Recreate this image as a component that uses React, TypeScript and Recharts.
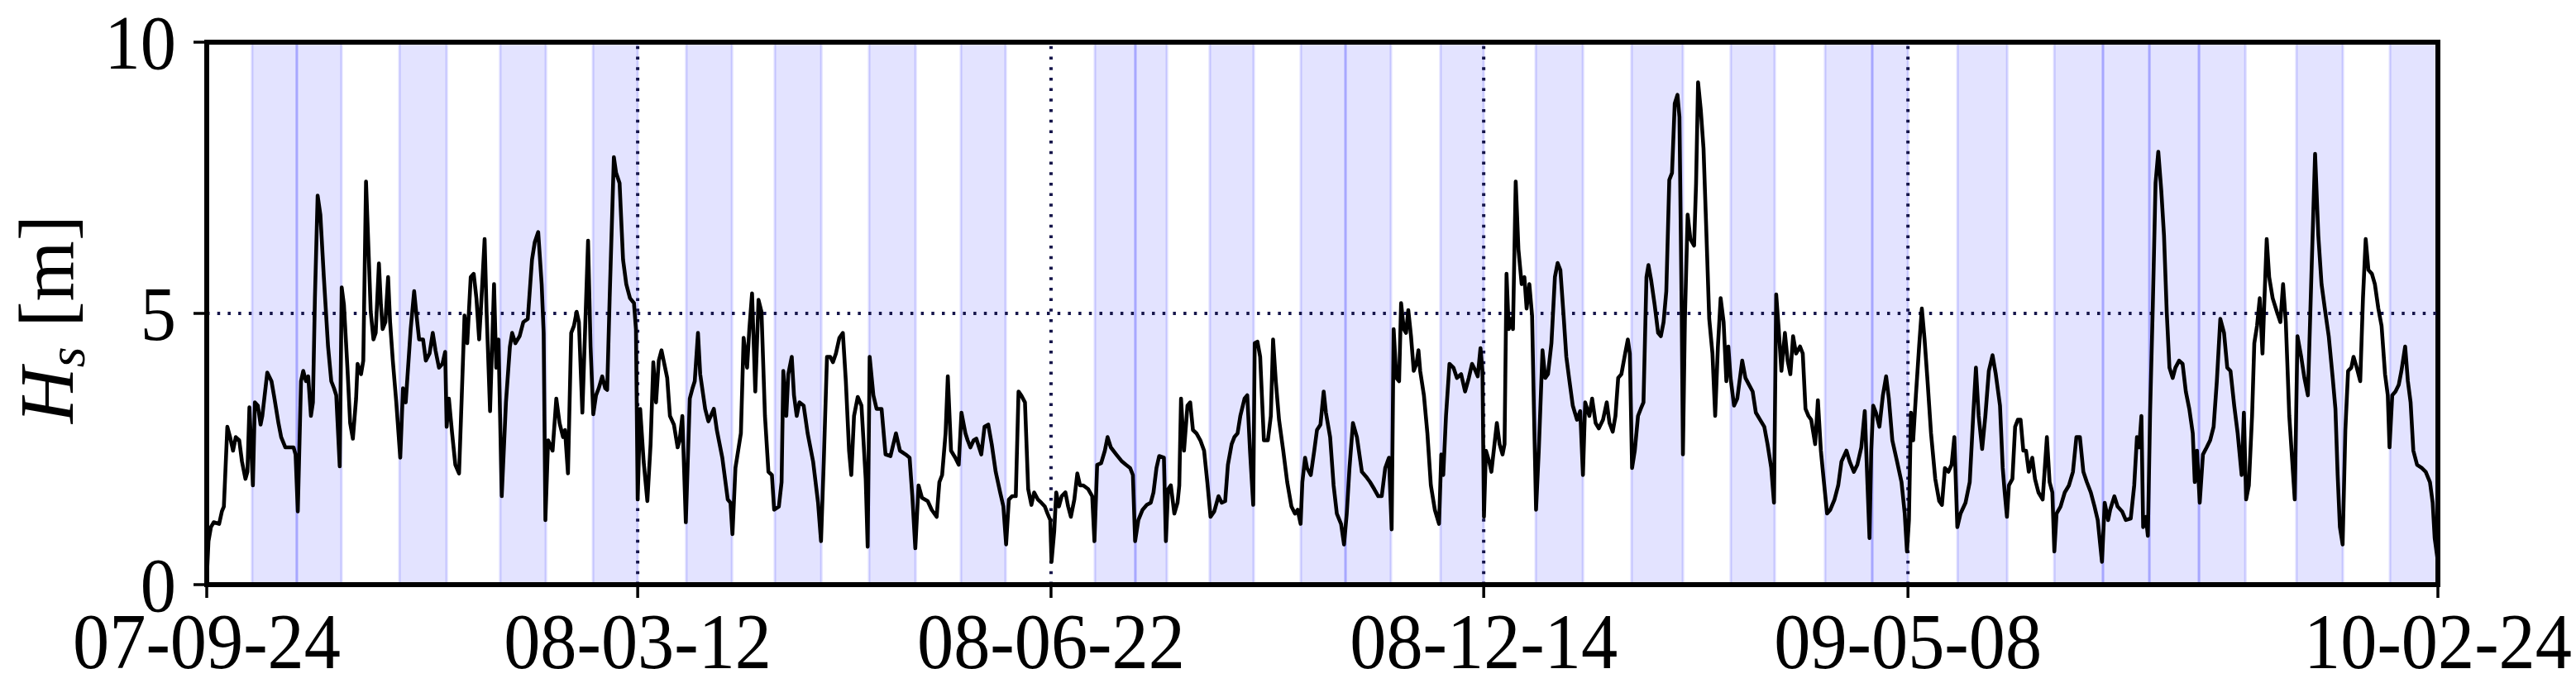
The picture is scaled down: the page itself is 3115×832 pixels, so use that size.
import React from 'react';
import { LineChart, Line, XAxis, YAxis, ReferenceArea, ReferenceLine } from 'recharts';

// x positions are sample indices of the concatenated record
const tickIndex = [0, 173.7, 340.3, 514.7, 685.7, 899.3];
const tickLabels = ['07-09-24', '08-03-12', '08-06-22', '08-12-14', '09-05-08', '10-02-24'];
const sectionMarks = [173.7, 340.3, 514.7, 685.7];
const hsThreshold = 5;
const yTicks = [0, 5, 10];
const xDomain: [number, number] = [0, 899.3];
const yDomain: [number, number] = [0, 10];

const bandStart = [18.3, 36.3, 77.7, 118.3, 155.7, 193.3, 229, 267, 304, 358, 374.3, 404.3, 441, 459, 497.3, 535.7, 574.3, 614.3, 652.3, 671.3, 705.7, 744.7, 764.3, 783, 803, 842.3, 880];
const bandEnd = [36.3, 54.3, 96.7, 136.7, 173.7, 211.7, 247.7, 285.7, 322, 374.3, 387, 422, 459, 477.3, 514.7, 554.7, 595, 632, 671.3, 685.7, 725.7, 764.3, 783, 803, 821.7, 861, 899.3];

const hsPart1: [number, number][] = [[0,0.1],[0.7,0.8],[1.7,1.06],[2.8,1.15],[5,1.12],[6.1,1.35],[6.9,1.44],[8.3,2.91],[9.4,2.72],[10.6,2.47],[11.7,2.72],[13.1,2.66],[14.2,2.27],[15.6,1.95],[16.4,2.08],[17.2,3.27],[18.6,1.83],[19.4,3.36],[20.6,3.3],[21.7,2.95],[22.4,3.11],[24.4,3.91],[26.1,3.75],[27.2,3.46],[28.9,2.98],[30,2.72],[31.7,2.53],[35,2.53],[35.8,2.4],[36.7,1.35],[38,3.75],[38.9,3.94],[40,3.75],[40.9,3.84],[42,3.11],[42.8,3.36],[43.6,5.28],[44.7,7.17],[45.8,6.82],[47.2,5.67],[48.9,4.39],[50.2,3.75],[51.3,3.62],[52.2,3.49],[53.6,2.18],[54.4,5.48],[55.3,5.16],[56.7,4.0],[57.8,2.98],[58.9,2.69],[60.2,3.43],[60.8,4.07],[62.2,3.88],[63.1,4.13],[64.2,7.43],[65.3,6.05],[66.1,5.03],[67.2,4.52],[68.1,4.64],[69.4,5.92],[70.2,5.16],[70.9,4.71],[72,4.84],[73.1,5.67],[73.9,4.84],[75,4.13],[76.4,3.36],[78,2.34],[79.1,3.62],[80.2,3.36],[82.2,4.71],[83.6,5.41],[84.4,5.03],[85.6,4.52],[87.2,4.52],[88.3,4.13],[89.8,4.26],[91.1,4.64],[92.2,4.32],[93.6,4.0],[95,4.07],[96.1,4.29],[96.7,2.91],[97.6,3.43],[98.9,2.79],[100.2,2.21],[101.7,2.05],[102.8,3.49],[103.9,4.96],[105,4.45],[106.4,5.67],[107.6,5.73],[108.7,5.28],[109.8,4.52],[110.6,5.16],[112,6.37],[112.8,5.03],[114.2,3.2],[115.8,5.54],[116.7,4.0],[117.6,4.52],[118.9,1.63],[120.6,3.36],[122.2,4.39],[123.1,4.64],[124.4,4.45],[126.1,4.58],[127.6,4.84],[129.4,4.9],[131.1,5.99],[132.2,6.31],[133.6,6.5],[135,5.54],[135.8,4.64],[136.5,1.19],[137.6,2.66],[139.4,2.47],[140.9,3.43],[142.2,2.98],[143.6,2.72],[144.4,2.85],[145.6,2.05],[146.9,4.64],[148,4.77],[149.1,5.03],[150,4.84]];

const hsPart2: [number, number][] = [[151.4,3.17],[153.7,6.34],[154.7,4.39],[155.8,3.14],[156.9,3.49],[158,3.62],[159.4,3.84],[160.6,3.62],[161.4,3.59],[162.4,5.28],[164.1,7.88],[165,7.59],[166.4,7.4],[167.8,5.99],[169.1,5.54],[170.6,5.28],[172.2,5.19],[173,4.71],[173.7,1.57],[174.7,3.24],[176.1,2.27],[177.6,1.54],[178.9,2.59],[180,4.1],[181.1,3.36],[182.2,4.13],[183.3,4.32],[185.6,3.81],[186.7,3.11],[188.3,2.95],[189.8,2.53],[190.6,2.66],[191.7,3.11],[193.1,1.15],[194.7,3.43],[195.8,3.62],[196.7,3.75],[198,4.64],[198.9,3.88],[200.9,3.24],[202.2,3.01],[204.4,3.24],[205.6,2.85],[207.8,2.34],[210,1.57],[211.1,1.51],[211.9,0.93],[213.1,2.15],[214.2,2.47],[215.3,2.79],[216.4,4.55],[217.8,4.0],[218.7,4.71],[219.8,5.37],[221.1,3.56],[222.4,5.25],[223.6,5.03],[225,3.11],[226.4,2.08],[227.8,2.02],[228.7,1.38],[230.6,1.44],[231.7,1.89],[232.4,3.94],[233.6,3.11],[234.4,3.88],[235.8,4.2],[236.7,3.49],[237.8,3.11],[238.9,3.36],[240.6,3.3],[242.2,2.79],[244.4,2.27],[246.4,1.51],[247.6,0.8],[248.7,2.27],[250,4.2],[251.3,4.2],[252.4,4.1],[253.6,4.26],[255,4.55],[256.4,4.64],[257.6,3.75],[258.9,2.47],[259.8,2.02],[260.9,3.11],[262.4,3.46],[263.9,3.3],[265.6,1.95],[266.4,0.7],[267.2,4.2],[268.7,3.49],[270,3.24],[272,3.24],[273.6,2.4],[275.6,2.37],[277.8,2.79],[279.4,2.47],[281.7,2.4],[283.3,2.34],[284.4,1.63],[285.6,0.67],[286.9,1.83],[288.3,1.6],[290.6,1.54],[292.2,1.38],[294.2,1.25],[295.3,1.89],[296.4,2.02],[297.8,2.79],[298.7,3.84],[300,2.47],[301.7,2.34],[303.1,2.21],[304.2,3.17]];

const hsPart3: [number, number][] = [[305.8,2.79],[306.7,2.66],[307.8,2.53],[309.1,2.66],[310.2,2.69],[311.3,2.53],[312.2,2.4],[313.5,2.91],[315,2.95],[316.4,2.59],[318,2.08],[319.8,1.7],[321.1,1.44],[322.2,0.74],[323.3,1.57],[324.6,1.63],[326.1,1.63],[327.2,3.56],[328.3,3.49],[329.8,3.36],[331.1,1.76],[332.4,1.47],[333.5,1.7],[335,1.57],[336.4,1.51],[337.8,1.44],[338.9,1.31],[340,1.19],[340.5,0.42],[341.6,0.99],[342.4,1.7],[343.5,1.44],[344.6,1.63],[346.1,1.7],[347.2,1.44],[348.3,1.25],[349.7,1.57],[350.9,2.05],[352,1.83],[353.3,1.83],[355.3,1.76],[356.9,1.63],[357.8,0.8],[358.9,2.21],[360.5,2.24],[362,2.47],[363.1,2.72],[364.4,2.53],[366.6,2.4],[368.9,2.27],[370.5,2.21],[372.2,2.15],[373.3,2.02],[374.2,0.8],[375.5,1.19],[377.2,1.38],[378.9,1.47],[380.5,1.51],[381.6,1.7],[382.8,2.15],[383.9,2.37],[385.8,2.34],[386.6,0.8],[387.5,1.76],[388.6,1.83],[390,1.31],[391.3,1.51],[392,1.83],[392.7,3.43],[393.9,2.47],[395.3,3.3],[396.4,3.36],[397.5,2.85],[398.9,2.79],[400.5,2.66],[402,2.47],[403.3,1.89],[404.6,1.25],[406.1,1.35],[407.8,1.63],[409.1,1.51],[410.5,1.54],[411.6,2.21],[413.1,2.59],[414.2,2.72],[415.5,2.79],[416.6,3.11],[418.3,3.43],[419.4,3.49],[420.5,2.47],[421.8,1.47],[422.4,4.45],[423.5,4.48],[424.6,4.2],[426.1,2.66],[427.7,2.66],[428.9,3.11],[429.8,4.52],[430.9,3.75],[432.2,3.04],[433.9,2.47],[435.5,1.89],[437.2,1.44],[438.6,1.31],[439.7,1.38],[440.9,1.12],[441.6,1.89],[442.7,2.34],[443.5,2.15],[445,2.02],[446.4,2.47],[447.5,2.85],[448.9,2.95],[450.2,3.56],[451.1,3.17],[452.8,2.72],[454.2,1.83],[455.5,1.31],[457.2,1.12]];

const hsPart4: [number, number][] = [[458.4,0.74],[459.5,1.31],[460.6,2.15],[462,2.98],[463.6,2.72],[465.6,2.08],[467.3,1.99],[468.9,1.89],[470.6,1.76],[472.2,1.63],[473.6,1.63],[475,2.15],[476.5,2.34],[477.6,1.02],[478.4,4.71],[479.5,3.81],[480.6,3.75],[481.4,5.19],[482.5,4.71],[483.4,4.64],[484.3,5.06],[485.4,4.58],[486.5,3.94],[487.6,4.07],[488.4,4.32],[489.1,3.94],[490.6,3.49],[492,2.79],[493.4,1.83],[495,1.38],[496.7,1.12],[497.6,2.4],[498.4,2.02],[499.5,3.11],[500.9,4.07],[502.5,4.0],[503.9,3.81],[505.6,3.88],[507.2,3.56],[508.7,3.81],[510,4.07],[511.4,3.94],[512.3,3.84],[513.4,4.36],[514.2,3.94],[514.8,1.25],[515.6,2.47],[516.9,2.27],[517.8,2.08],[518.9,2.53],[520,2.98],[521.1,2.59],[522.3,2.4],[523.1,2.59],[523.9,5.73],[524.8,4.71],[525.6,4.9],[526.5,4.71],[527.6,7.43],[528.7,6.18],[530,5.54],[531.1,5.67],[532,5.09],[533.1,5.54],[534.2,4.96],[535,3.11],[535.8,1.38],[536.9,2.47],[538.4,4.32],[539.5,3.81],[540.6,3.88],[542,4.45],[543.4,5.67],[544.5,5.93],[545.6,5.8],[546.9,4.96],[548,4.2],[549.1,3.81],[550.6,3.3],[552.3,3.04],[553.6,3.2],[554.7,2.02],[555.6,3.36],[557.3,3.11],[558.4,3.43],[559.8,2.98],[561.1,2.88],[562.8,3.04],[564.3,3.36],[565.4,2.98],[566.7,2.82],[567.8,3.11],[568.9,3.81],[570.2,3.88],[571.7,4.26],[572.8,4.52],[573.6,4.26],[574.5,2.15],[575.6,2.47],[576.9,3.11],[578,3.24],[579.1,3.36],[580.3,5.67],[581.1,5.89],[582.2,5.61],[583.6,5.16],[585,4.64],[586.1,4.58],[587.2,4.84],[588.3,5.41],[589.5,7.46],[590.6,7.59],[591.7,8.87],[592.8,9.03],[593.6,8.62],[594.5,5.03],[595,2.4],[595.8,4.9],[596.9,6.82],[598,6.37],[599.5,6.25],[600.3,7.4],[601.1,9.26],[602.2,8.75],[603.3,8.04],[604.4,6.56],[605.6,4.9],[606.9,4.26],[608,3.11],[609.1,4.39],[610.2,5.28],[611.4,4.84],[612.5,3.75],[613.3,4.39]];

const hsPart5: [number, number][] = [[614.2,3.81],[615.6,3.3],[616.9,3.43],[618.9,4.13],[620.2,3.81],[621.7,3.68],[623.1,3.56],[624.4,3.17],[626.1,3.04],[627.8,2.91],[629.1,2.59],[630.6,2.15],[631.7,1.51],[632.6,5.35],[633.6,4.71],[634.7,3.94],[636.1,4.64],[637.2,4.13],[638.3,3.88],[639.4,4.58],[640.6,4.26],[642.2,4.39],[643.3,4.26],[644.4,3.24],[645.6,3.11],[646.7,3.04],[648.3,2.59],[649.4,3.4],[650.6,2.47],[651.7,1.95],[653.1,1.31],[654.4,1.38],[656.1,1.57],[657.6,1.83],[658.9,2.27],[660.9,2.47],[662.2,2.27],[663.9,2.08],[665.3,2.21],[666.9,2.53],[668.3,3.2],[669.4,1.83],[670.2,0.86],[670.9,2.47],[671.7,3.3],[672.8,3.17],[674.2,2.91],[675.6,3.49],[676.9,3.84],[678,3.43],[679.4,2.66],[681.3,2.27],[683.1,1.89],[684.4,1.31],[685.3,0.61],[686.1,1.19],[686.9,3.17],[687.8,2.66],[688.9,3.49],[690.2,4.39],[691.3,5.09],[692.4,4.52],[693.6,3.75],[695,2.79],[696.7,1.95],[698.3,1.54],[699.4,1.47],[700.6,2.15],[702,2.08],[703.3,2.21],[704.4,2.72],[705.6,1.06],[706.9,1.31],[708.9,1.51],[710.6,1.89],[712,3.11],[713.1,4.0],[714.2,3.11],[715.6,2.5],[716.9,3.11],[718.3,3.94],[719.8,4.23],[721.1,3.88],[722.8,3.3],[723.9,2.15],[724.7,1.7],[725.6,1.25],[726.4,1.83],[727.8,1.95],[728.9,2.91],[730,3.04],[731.1,3.04],[732.2,2.47],[733.3,2.47],[734.4,2.08],[735.8,2.34],[736.9,1.95],[738.3,1.7],[740,1.57],[741.7,2.72],[742.8,1.89],[743.9,1.7],[744.7,0.61],[745.6,1.31],[747.2,1.44],[748.9,1.7],[750.6,1.83],[752.2,2.08],[753.6,2.72],[755,2.72],[756.4,2.08],[757.8,1.89],[759.4,1.7],[760.9,1.44],[762.2,1.19],[763.9,0.42],[765,1.51],[766.4,1.19]];

const hsPart6: [number, number][] = [[767.2,1.38],[768.9,1.63],[770.2,1.44],[772,1.35],[773.5,1.19],[775.5,1.22],[776.9,1.83],[778,2.72],[778.9,2.53],[779.8,3.11],[780.5,1.06],[781.6,1.25],[782.4,0.9],[783.3,3.17],[784.4,5.16],[785.5,7.4],[786.6,7.98],[787.8,7.27],[788.9,6.44],[790,5.03],[791.1,4.0],[792.4,3.81],[793.5,4.0],[795,4.13],[796.4,4.07],[797.7,3.56],[799.1,3.24],[800.5,2.79],[801.3,1.89],[802.2,2.47],[803.3,1.51],[804.6,2.4],[806.1,2.53],[807.5,2.66],[808.9,2.91],[810.2,3.75],[811.6,4.9],[813.1,4.64],[814.4,4.0],[815.7,3.94],[817.2,3.3],[818.6,2.79],[820.2,2.02],[821.1,3.17],[822,1.57],[823.1,1.83],[824.4,3.11],[825.3,4.45],[826.4,4.77],[827.5,5.28],[828.6,4.26],[829.4,5.28],[830.3,6.37],[831.3,5.67],[832.7,5.28],[834.4,5.03],[835.8,4.84],[836.9,5.54],[838,4.84],[839.4,3.11],[840.5,2.34],[841.6,1.57],[842.7,4.58],[844.2,4.2],[845.5,3.81],[846.9,3.49],[848.3,5.67],[849.8,7.94],[851.1,6.44],[852.4,5.54],[853.9,5.03],[855.3,4.58],[856.9,3.81],[858,3.24],[858.9,2.02],[859.8,1.06],[860.9,0.74],[862,2.85],[863.1,3.94],[864.4,4.0],[865.3,4.2],[866.6,4.0],[868,3.75],[869.1,5.28],[870.2,6.37],[871.3,5.8],[872.7,5.73],[873.9,5.54],[875.3,5.09],[876.6,4.77],[878,3.88],[879.1,3.49],[879.8,2.53],[880.9,3.49],[882.2,3.56],[883.5,3.68],[884.6,3.94],[886.1,4.39],[887.2,3.75],[888.3,3.36],[889.4,2.47],[890.9,2.21],[892.8,2.15],[894.4,2.08],[896.1,1.89],[897.2,1.51],[898,0.86],[899.3,0.42]];

const chartData = [...hsPart1, ...hsPart2, ...hsPart3, ...hsPart4, ...hsPart5, ...hsPart6].map(([t, h]) => ({ t, hs: h }));

const FONT = '"Liberation Serif", "DejaVu Serif", serif';
const DOT_COLOR = '#15154a';

const XTick = (props: any) => {
  const { x, y, payload } = props;
  const i = tickIndex.indexOf(payload.value);
  return (
    <g transform={`translate(${x},${y + 83})`}>
      <text x={0} y={0} transform="scale(0.93,1)" textAnchor="middle" fontFamily={FONT} fontSize={95} fill="#000">
        {i >= 0 ? tickLabels[i] : ''}
      </text>
    </g>
  );
};

const YTick = (props: any) => {
  const { x, y, payload } = props;
  return (
    <g transform={`translate(${x - 19},${y + 32})`}>
      <text x={0} y={0} transform="scale(0.93,1)" textAnchor="end" fontFamily={FONT} fontSize={93} fill="#000">
        {payload.value}
      </text>
    </g>
  );
};

const YLabel = () => {
  const cx = 88;
  const cy = 386;
  return (
    <text x={cx} y={cy} transform={`rotate(-90, ${cx}, ${cy})`} textAnchor="middle" fontFamily={FONT} fontSize={94} fill="#000">
      <tspan fontStyle="italic">H</tspan>
      <tspan fontStyle="italic" fontSize={64} dy={14}>s</tspan>
      <tspan dy={-14}>{'\u00a0[m]'}</tspan>
    </text>
  );
};

export default function App() {
  return (
    <div style={{ position: 'absolute', left: 0, top: 0, width: 3115, height: 832, background: '#fff' }}>
      <LineChart width={3115} height={832} data={chartData} margin={{ top: 51, right: 167, bottom: 0, left: 0 }}>
        {bandStart.map((s, i) => (
          <ReferenceArea
            key={`band-${i}`}
            x1={s}
            x2={bandEnd[i]}
            fill="#0000ff"
            fillOpacity={0.11}
            stroke="#0000ff"
            strokeOpacity={0.14}
            strokeWidth={3}
            isAnimationActive={false}
          />
        ))}
        <ReferenceLine y={hsThreshold} stroke={DOT_COLOR} strokeWidth={4} strokeDasharray="3.5 9.2" />
        {sectionMarks.map((m) => (
          <ReferenceLine key={`mark-${m}`} x={m} stroke={DOT_COLOR} strokeWidth={4} strokeDasharray="3.5 9.2" />
        ))}
        <Line
          type="linear"
          dataKey="hs"
          stroke="#000"
          strokeWidth={4.6}
          dot={false}
          activeDot={false}
          strokeLinejoin="round"
          isAnimationActive={false}
        />
        <ReferenceArea
          x1={xDomain[0]}
          x2={xDomain[1]}
          y1={yDomain[0]}
          y2={yDomain[1]}
          fill="none"
          stroke="#000"
          strokeWidth={6}
          ifOverflow="visible"
          isAnimationActive={false}
        />
        <XAxis
          dataKey="t"
          type="number"
          domain={xDomain}
          ticks={tickIndex}
          interval={0}
          height={125}
          tickSize={16}
          tick={<XTick />}
          tickLine={{ stroke: '#000', strokeWidth: 3.5 }}
          axisLine={{ stroke: '#000', strokeWidth: 6 }}
          allowDataOverflow
        />
        <YAxis
          type="number"
          domain={yDomain}
          ticks={yTicks}
          interval={0}
          width={250}
          tickSize={16}
          tick={<YTick />}
          tickLine={{ stroke: '#000', strokeWidth: 3.5 }}
          axisLine={{ stroke: '#000', strokeWidth: 6 }}
          label={{ content: () => <YLabel /> }}
        />
      </LineChart>
    </div>
  );
}
